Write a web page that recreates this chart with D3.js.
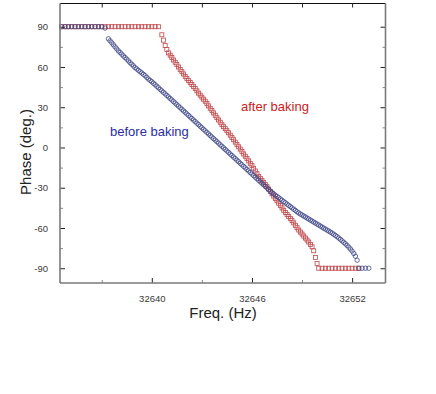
<!DOCTYPE html>
<html>
<head>
<meta charset="utf-8">
<script src="https://cdn.jsdelivr.net/npm/d3@7"></script>
<style>
  body { margin: 0; background: #fff; }
  svg { display: block; font-family: "Liberation Sans", Arial, sans-serif; }
</style>
</head>
<body>
<div id="chart"></div>
<script>
// Data (Hz, degrees)
const beforeFreq = [
  32634.6, 32634.8, 32635.0, 32635.2, 32635.4, 32635.6, 32635.8, 32636.0, 32636.2, 32636.4,
  32636.6, 32636.8, 32637.0, 32637.2,
  32637.4, 32637.5, 32637.6, 32637.7, 32637.8, 32637.9, 32638.0, 32638.1, 32638.2, 32638.3,
  32638.4, 32638.5, 32638.6, 32638.7, 32638.8, 32638.9, 32639.0, 32639.1, 32639.2, 32639.3,
  32639.4, 32639.5, 32639.6, 32639.7, 32639.8, 32639.9, 32640.0, 32640.1, 32640.2, 32640.3,
  32640.4, 32640.5, 32640.6, 32640.7, 32640.8, 32640.9, 32641.0, 32641.1, 32641.2, 32641.3,
  32641.4, 32641.5, 32641.6, 32641.7, 32641.8, 32641.9, 32642.0, 32642.1, 32642.2, 32642.3,
  32642.4, 32642.5, 32642.6, 32642.7, 32642.8, 32642.9, 32643.0, 32643.1, 32643.2, 32643.3,
  32643.4, 32643.5, 32643.6, 32643.7, 32643.8, 32643.9, 32644.0, 32644.1, 32644.2, 32644.3,
  32644.4, 32644.5, 32644.6, 32644.7, 32644.8, 32644.9, 32645.0, 32645.1, 32645.2, 32645.3,
  32645.4, 32645.5, 32645.6, 32645.7, 32645.8, 32645.9, 32646.0, 32646.1, 32646.2, 32646.3,
  32646.4, 32646.5, 32646.6, 32646.7, 32646.8, 32646.9, 32647.0, 32647.1, 32647.2, 32647.3,
  32647.4, 32647.5, 32647.6, 32647.7, 32647.8, 32647.9, 32648.0, 32648.1, 32648.2, 32648.3,
  32648.4, 32648.5, 32648.6, 32648.7, 32648.8, 32648.9, 32649.0, 32649.1, 32649.2, 32649.3,
  32649.4, 32649.5, 32649.6, 32649.7, 32649.8, 32649.9, 32650.0, 32650.1, 32650.2, 32650.3,
  32650.4, 32650.5, 32650.6, 32650.7, 32650.8, 32650.9, 32651.0, 32651.1, 32651.2, 32651.3,
  32651.4, 32651.5, 32651.6, 32651.7, 32651.8, 32651.9, 32652.0, 32652.1, 32652.2, 32652.3,
  32652.4, 32652.6, 32652.8, 32653.0
];
const beforePhase = [
  90, 90, 90, 90, 90, 90, 90, 90, 90, 90,
  90, 90, 90, 89,
  81, 79.5, 78, 76.5, 75, 73.5, 72, 70.8, 69.5, 68.2,
  67, 65.8, 64.5, 63.2, 62, 60.8, 59.5, 58.5, 57.5, 56.5,
  55.5, 54.5, 53.5, 52.2, 51, 50, 49, 47.9, 46.8, 45.6,
  44.5, 43.3, 42.2, 41.1, 40, 38.8, 37.7, 36.5, 35.4, 34.2,
  33.1, 31.9, 30.8, 29.6, 28.5, 27.3, 26.2, 25, 23.9, 22.7,
  21.6, 20.4, 19.3, 18.1, 17, 15.8, 14.7, 13.5, 12.4, 11.2,
  10.1, 8.9, 7.8, 6.6, 5.5, 4.3, 3.2, 2, 0.9, -0.3,
  -1.4, -2.6, -3.7, -4.9, -6, -7.2, -8.3, -9.5, -10.6, -11.8,
  -12.9, -14.1, -15.2, -16.4, -17.5, -18.7, -19.8, -21, -22.1, -23.3,
  -24.4, -25.6, -26.7, -27.9, -29, -30.2, -31.3, -32.5, -33.6, -34.6,
  -35.5, -36.5, -37.4, -38.4, -39.3, -40.3, -41.2, -42.2, -43.1, -44.1,
  -45, -46, -46.9, -47.9, -48.8, -49.6, -50.3, -51.1, -51.8, -52.6,
  -53.3, -54.1, -54.8, -55.6, -56.3, -57.1, -57.8, -58.6, -59.3, -60.1,
  -60.8, -61.6, -62.3, -63.1, -63.8, -64.7, -65.6, -66.5, -67.5, -68.5,
  -69.6, -70.7, -71.8, -73, -74.3, -75.7, -77.2, -79, -81, -84,
  -90, -90, -90, -90
];

const afterFreq = [
  32634.6, 32634.8, 32635.0, 32635.2, 32635.4, 32635.6, 32635.8, 32636.0, 32636.2, 32636.4,
  32636.6, 32636.8, 32637.0, 32637.2, 32637.4, 32637.6, 32637.8, 32638.0, 32638.2, 32638.4,
  32638.6, 32638.8, 32639.0, 32639.2, 32639.4, 32639.6, 32639.8, 32640.0, 32640.2, 32640.4,
  32640.6, 32640.7, 32640.8, 32640.9, 32641.0, 32641.1, 32641.2, 32641.3, 32641.4, 32641.5,
  32641.6, 32641.7, 32641.8, 32641.9, 32642.0, 32642.1, 32642.2, 32642.3, 32642.4, 32642.5,
  32642.6, 32642.7, 32642.8, 32642.9, 32643.0, 32643.1, 32643.2, 32643.3, 32643.4, 32643.5,
  32643.6, 32643.7, 32643.8, 32643.9, 32644.0, 32644.1, 32644.2, 32644.3, 32644.4, 32644.5,
  32644.6, 32644.7, 32644.8, 32644.9, 32645.0, 32645.1, 32645.2, 32645.3, 32645.4, 32645.5,
  32645.6, 32645.7, 32645.8, 32645.9, 32646.0, 32646.1, 32646.2, 32646.3, 32646.4, 32646.5,
  32646.6, 32646.7, 32646.8, 32646.9, 32647.0, 32647.1, 32647.2, 32647.3, 32647.4, 32647.5,
  32647.6, 32647.7, 32647.8, 32647.9, 32648.0, 32648.1, 32648.2, 32648.3, 32648.4, 32648.5,
  32648.6, 32648.7, 32648.8, 32648.9, 32649.0, 32649.1, 32649.2, 32649.3, 32649.4, 32649.5,
  32649.6, 32649.7, 32649.8, 32649.9,
  32650.0, 32650.2, 32650.4, 32650.6, 32650.8, 32651.0, 32651.2, 32651.4, 32651.6, 32651.8,
  32652.0, 32652.2, 32652.4
];
const afterPhase = [
  90, 90, 90, 90, 90, 90, 90, 90, 90, 90,
  90, 90, 90, 90, 90, 90, 90, 90, 90, 90,
  90, 90, 90, 90, 90, 90, 90, 90, 90, 90,
  84, 80, 76, 73, 70.5, 68.8, 67, 65.2, 63.5, 61.8,
  60, 58.2, 56.5, 54.8, 53, 51.5, 50, 48.5, 47, 45.5,
  44, 42.2, 40.5, 39, 37.5, 36, 34.5, 32.8, 31, 29.2,
  27.5, 25.8, 24, 22.2, 20.5, 18.8, 17, 15.5, 14, 12.5,
  11, 9.2, 7.5, 5.8, 4, 2.2, 0.5, -1.2, -3, -4.8,
  -6.5, -8.2, -10, -11.8, -13.5, -15.5, -17.5, -19.5, -21.5, -23,
  -24.5, -26, -27.5, -29.2, -31, -32.8, -34.5, -36.2, -38, -39.8,
  -41.5, -43.2, -45, -46.8, -48.5, -50, -51.5, -53, -54.5, -56.2,
  -58, -59.8, -61.5, -63, -64.5, -66, -67.5, -69, -70.5, -72.2,
  -74, -77, -82, -86.5,
  -90, -90, -90, -90, -90, -90, -90, -90, -90, -90,
  -90, -90, -90
];

const xMajor = [32640, 32646, 32652];
const xMinor = [32637, 32643, 32649];
const yMajor = [-90, -60, -30, 0, 30, 60, 90];
const yMinor = [-75, -45, -15, 15, 45, 75];

const W = 436, H = 394;
const PLOT = {LEFT: 60, RIGHT: 385.5, TOP: 3.5, BOTTOM: 283};

const svg = d3.select("#chart").append("svg")
    .attr("width", W)
    .attr("height", H);

const x = d3.scaleLinear()
    .domain([32634.5, 32654.0])
    .range([PLOT.LEFT, PLOT.RIGHT]);
const y = d3.scaleLinear()
    .domain([-101, 107.3])
    .range([PLOT.BOTTOM, PLOT.TOP]);

// Series
const before = beforeFreq.map((f, i) => ({f, p: beforePhase[i]}));
const after = afterFreq.map((f, i) => ({f, p: afterPhase[i]}));

svg.append("g").selectAll("rect")
    .data(after)
    .enter().append("rect")
        .attr("x", d => x(d.f) - 2)
        .attr("y", d => y(d.p) - 2)
        .attr("width", 4)
        .attr("height", 4)
        .attr("fill", "none")
        .attr("stroke", "#c0474a")
        .attr("stroke-width", 0.8);

svg.append("g").selectAll("circle")
    .data(before)
    .enter().append("circle")
        .attr("cx", d => x(d.f))
        .attr("cy", d => y(d.p))
        .attr("r", 2.2)
        .attr("fill", "none")
        .attr("stroke", "#3d4888")
        .attr("stroke-width", 0.8);

// Axes, ticks pointing inward
const axisColor = "#7a7a7a";
const plain = d => String(d);   // hyphen minus like the original
function styleAxis(g) {
    g.select(".domain").remove();
    g.selectAll(".tick line").attr("stroke", "#222").attr("stroke-width", 1);
    g.selectAll(".tick text")
        .attr("fill", "#3a3a3a")
        .style("font-size", "9.5px");
}
function minorStyle(g) {
    g.select(".domain").remove();
    g.selectAll("line").attr("stroke", "#888");
}

svg.append("g")
    .attr("transform", `translate(0, ${PLOT.BOTTOM})`)
    .call(d3.axisBottom(x).tickValues(xMajor).tickSize(-5).tickPadding(12).tickFormat(plain))
    .call(styleAxis);
svg.append("g")
    .attr("transform", `translate(0, ${PLOT.BOTTOM})`)
    .call(d3.axisBottom(x).tickValues(xMinor).tickSize(-3).tickFormat(""))
    .call(minorStyle);
svg.append("g")
    .attr("transform", `translate(0, ${PLOT.TOP})`)
    .call(d3.axisTop(x).tickValues(xMajor.concat(xMinor)).tickSize(-4).tickFormat(""))
    .call(g => { g.select(".domain").remove(); g.selectAll("line").attr("stroke", "#222"); });

svg.append("g")
    .attr("transform", `translate(${PLOT.LEFT}, 0)`)
    .call(d3.axisLeft(y).tickValues(yMajor).tickSize(-5).tickPadding(12).tickFormat(plain))
    .call(styleAxis);
svg.append("g")
    .attr("transform", `translate(${PLOT.LEFT}, 0)`)
    .call(d3.axisLeft(y).tickValues(yMinor).tickSize(-3).tickFormat(""))
    .call(minorStyle);
svg.append("g")
    .attr("transform", `translate(${PLOT.RIGHT}, 0)`)
    .call(d3.axisRight(y).tickValues(yMajor).tickSize(-5).tickFormat(""))
    .call(g => { g.select(".domain").remove(); g.selectAll("line").attr("stroke", "#222"); });
svg.append("g")
    .attr("transform", `translate(${PLOT.RIGHT}, 0)`)
    .call(d3.axisRight(y).tickValues(yMinor).tickSize(-3).tickFormat(""))
    .call(minorStyle);

// Frame
svg.append("line")
    .attr("x1", PLOT.LEFT).attr("x2", PLOT.RIGHT)
    .attr("y1", PLOT.TOP).attr("y2", PLOT.TOP)
    .attr("stroke", "#111").attr("stroke-width", 1.2);
svg.append("line")
    .attr("x1", PLOT.LEFT).attr("x2", PLOT.RIGHT)
    .attr("y1", PLOT.BOTTOM).attr("y2", PLOT.BOTTOM)
    .attr("stroke", axisColor).attr("stroke-width", 1.6);
svg.append("line")
    .attr("x1", PLOT.LEFT).attr("x2", PLOT.LEFT)
    .attr("y1", PLOT.TOP).attr("y2", PLOT.BOTTOM)
    .attr("stroke", axisColor).attr("stroke-width", 1.6);
svg.append("line")
    .attr("x1", PLOT.RIGHT).attr("x2", PLOT.RIGHT)
    .attr("y1", PLOT.TOP).attr("y2", PLOT.BOTTOM)
    .attr("stroke", axisColor).attr("stroke-width", 1.6);

// Labels
svg.append("text")
    .attr("x", 223)
    .attr("y", 318)
    .attr("text-anchor", "middle")
    .attr("fill", "#222")
    .style("font-size", "15px")
    .text("Freq. (Hz)");
svg.append("text")
    .attr("transform", "translate(31, 152) rotate(-90)")
    .attr("text-anchor", "middle")
    .attr("fill", "#222")
    .style("font-size", "15px")
    .text("Phase (deg.)");

svg.append("text")
    .attr("x", 110)
    .attr("y", 136)
    .attr("fill", "#2a2ea0")
    .style("font-size", "13px")
    .text("before baking");
svg.append("text")
    .attr("x", 241)
    .attr("y", 111)
    .attr("fill", "#cc2222")
    .style("font-size", "13px")
    .text("after baking");
</script>
</body>
</html>
